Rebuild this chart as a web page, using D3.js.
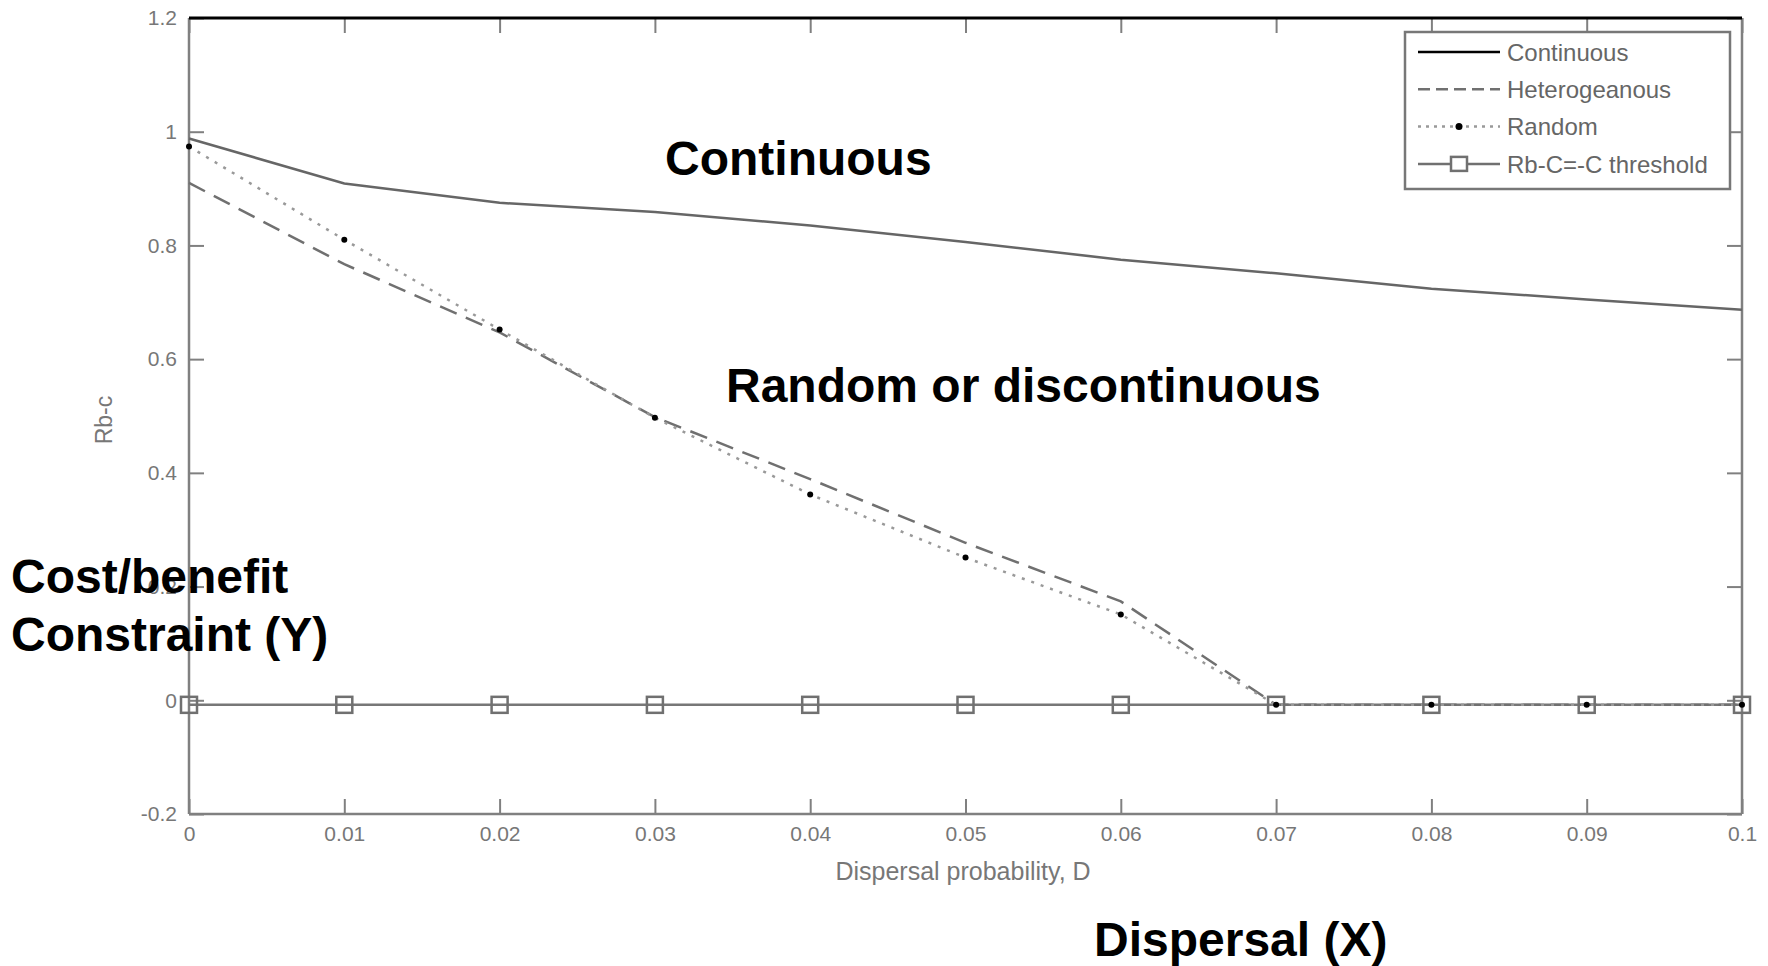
<!DOCTYPE html>
<html lang="en">
<head>
<meta charset="UTF-8">
<title>Dispersal probability vs Rb-c</title>
<script src="https://cdn.jsdelivr.net/npm/d3@7"></script>
<style>
  body { margin: 0; background: #fff; }
  svg text { font-family: "Liberation Sans", Arial, sans-serif; }
  .tick text { fill: #777; font-size: 21px; }
  .tick line { stroke: #808080; stroke-width: 2; }
  .note { font-weight: bold; font-size: 48px; fill: #000; }
  .legend text { fill: #666; font-size: 24px; }
</style>
</head>
<body>
<svg id="chart" width="1768" height="966"></svg>
<script>
// values
const dispersal = [0, 0.01, 0.02, 0.03, 0.04, 0.05, 0.06, 0.07, 0.08, 0.09, 0.1];
const continuous = [0.988, 0.909, 0.875, 0.859, 0.835, 0.806, 0.775, 0.751, 0.724, 0.705, 0.687];
const heterogeneous = [0.91, 0.767, 0.647, 0.498, 0.389, 0.277, 0.174, -0.008, -0.008, -0.008, -0.008];
const random = [0.974, 0.810, 0.652, 0.497, 0.362, 0.251, 0.151, -0.008, -0.008, -0.008, -0.008];
const threshold = [-0.008, -0.008, -0.008, -0.008, -0.008, -0.008, -0.008, -0.008, -0.008, -0.008, -0.008];

const xTicks = [0, 0.01, 0.02, 0.03, 0.04, 0.05, 0.06, 0.07, 0.08, 0.09, 0.1];
const yTicks = [-0.2, 0, 0.2, 0.4, 0.6, 0.8, 1, 1.2];
const seriesNames = ["Continuous", "Heterogeanous", "Random", "Rb-C=-C threshold"];

const svg = d3.select('#chart');
const plotLeft = 189, plotRight = 1742, plotTop = 18, plotBottom = 814;

const x = d3.scaleLinear().domain([0, 0.1]).range([plotLeft, plotRight]);
const y = d3.scaleLinear().domain([-0.2, 1.2]).range([plotBottom, plotTop]);

svg.append('rect').attr('width', 1768).attr('height', 966).attr('fill', '#fff');

// axes, ticks pointing inwards like the matlab box
svg.append('g')
    .attr('transform', 'translate(0,' + plotBottom + ')')
    .call(d3.axisBottom(x).tickValues(xTicks).tickFormat(d => String(d))
        .tickSizeInner(-15).tickSizeOuter(0).tickPadding(12));
svg.append('g')
    .attr('transform', 'translate(' + plotLeft + ',0)')
    .call(d3.axisLeft(y).tickValues(yTicks).tickFormat(d => String(d))
        .tickSizeInner(-15).tickSizeOuter(0).tickPadding(12));
svg.append('g')
    .attr('transform', 'translate(0,' + plotTop + ')')
    .call(d3.axisTop(x).tickValues(xTicks).tickFormat('')
        .tickSizeInner(-15).tickSizeOuter(0));
svg.append('g')
    .attr('transform', 'translate(' + plotRight + ',0)')
    .call(d3.axisRight(y).tickValues(yTicks).tickFormat('')
        .tickSizeInner(-15).tickSizeOuter(0));
svg.selectAll('.domain').remove();

// frame
svg.append('line').attr('x1', plotLeft).attr('x2', plotLeft).attr('y1', plotTop).attr('y2', plotBottom)
    .attr('stroke', '#808080').attr('stroke-width', 2.5);
svg.append('line').attr('x1', plotLeft).attr('x2', plotRight).attr('y1', plotBottom).attr('y2', plotBottom)
    .attr('stroke', '#808080').attr('stroke-width', 2.5);
svg.append('line').attr('x1', plotRight).attr('x2', plotRight).attr('y1', plotTop).attr('y2', plotBottom)
    .attr('stroke', '#808080').attr('stroke-width', 2.5);
svg.append('line').attr('x1', plotLeft).attr('x2', plotRight).attr('y1', plotTop).attr('y2', plotTop)
    .attr('stroke', '#000').attr('stroke-width', 3);

// axis labels
svg.append('text')
    .attr('x', 963).attr('y', 880)
    .attr('text-anchor', 'middle')
    .attr('fill', '#777').attr('font-size', 25)
    .text('Dispersal probability, D');
svg.append('text')
    .attr('transform', 'translate(112,420) rotate(-90)')
    .attr('text-anchor', 'middle')
    .attr('fill', '#777').attr('font-size', 23)
    .text('Rb-c');

const line = d3.line()
    .x((d, i) => x(dispersal[i]))
    .y(d => y(d));

svg.append('path').datum(threshold)
    .attr('d', line).attr('fill', 'none')
    .attr('stroke', '#777').attr('stroke-width', 2.5);

svg.append('path').datum(continuous)
    .attr('d', line).attr('fill', 'none')
    .attr('stroke', '#666').attr('stroke-width', 2.5);

svg.append('path').datum(heterogeneous)
    .attr('d', line).attr('fill', 'none')
    .attr('stroke', '#707070').attr('stroke-width', 2.5)
    .attr('stroke-dasharray', '18,10');

svg.append('path').datum(random)
    .attr('d', line).attr('fill', 'none')
    .attr('stroke', '#999').attr('stroke-width', 2.5)
    .attr('stroke-dasharray', '3,7');

svg.selectAll('rect.thresholdMark')
    .data(threshold)
    .enter()
    .append('rect')
    .attr('class', 'thresholdMark')
    .attr('x', (d, i) => x(dispersal[i]) - 8)
    .attr('y', d => y(d) - 8)
    .attr('width', 16).attr('height', 16)
    .attr('fill', 'none')
    .attr('stroke', '#707070').attr('stroke-width', 2.5);

svg.selectAll('circle.randomMark')
    .data(random)
    .enter()
    .append('circle')
    .attr('class', 'randomMark')
    .attr('cx', (d, i) => x(dispersal[i]))
    .attr('cy', d => y(d))
    .attr('r', 3)
    .attr('fill', '#000');

// legend
const legend = svg.append('g').attr('class', 'legend');
legend.append('rect')
    .attr('x', 1405).attr('y', 32).attr('width', 325).attr('height', 157)
    .attr('fill', '#fff').attr('stroke', '#777').attr('stroke-width', 2.5);

const legendStyles = [
    { stroke: '#000', dash: null },
    { stroke: '#707070', dash: '12,6' },
    { stroke: '#999', dash: '3,5' },
    { stroke: '#707070', dash: null }
];
const rowY = i => 52 + i * 37.3;

legend.selectAll('line.key')
    .data(seriesNames)
    .enter()
    .append('line')
    .attr('class', 'key')
    .attr('x1', 1418).attr('x2', 1500)
    .attr('y1', (d, i) => rowY(i)).attr('y2', (d, i) => rowY(i))
    .attr('stroke', (d, i) => legendStyles[i].stroke)
    .attr('stroke-width', 2.5)
    .attr('stroke-dasharray', (d, i) => legendStyles[i].dash);

legend.append('circle')
    .attr('cx', 1459).attr('cy', rowY(2)).attr('r', 3.5).attr('fill', '#000');
legend.append('rect')
    .attr('x', 1451).attr('y', rowY(3) - 7).attr('width', 16).attr('height', 14)
    .attr('fill', '#fff').attr('stroke', '#707070').attr('stroke-width', 2.5);

legend.selectAll('text')
    .data(seriesNames)
    .enter()
    .append('text')
    .attr('x', 1507)
    .attr('y', (d, i) => rowY(i))
    .attr('dy', '0.36em')
    .text(d => d);

// big annotations laid over the figure
svg.append('text').attr('class', 'note').attr('x', 665).attr('y', 175).text('Continuous');
svg.append('text').attr('class', 'note').attr('x', 726).attr('y', 402).text('Random or discontinuous');
svg.append('text').attr('class', 'note').attr('x', 11).attr('y', 593).text('Cost/benefit');
svg.append('text').attr('class', 'note').attr('x', 11).attr('y', 651).text('Constraint (Y)');
svg.append('text').attr('class', 'note').attr('x', 1094).attr('y', 956).text('Dispersal (X)');
</script>
</body>
</html>
